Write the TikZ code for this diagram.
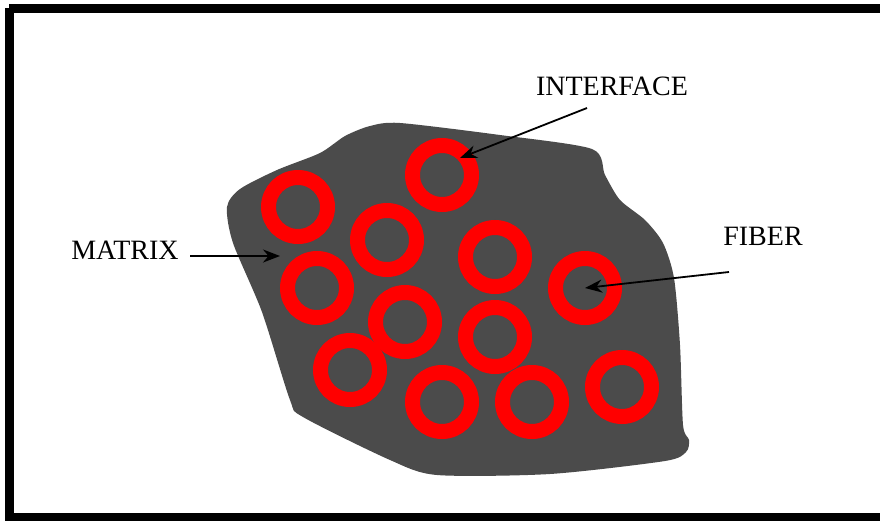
\documentclass[tikz,border=0pt]{standalone}
\usepackage{fontspec}
\setmainfont{Liberation Serif}
\usetikzlibrary{arrows.meta,positioning}

\definecolor{matrixgray}{HTML}{4B4B4B}

\tikzset{
  label text/.style={font=\fontsize{28}{30}\selectfont, inner sep=0pt},
  fiber ring/.style={draw=red, line width=15pt},
  pointer/.style={draw=black, line width=1.8pt, -{Stealth[length=17pt,width=13pt]}}
}

\begin{document}
\begin{tikzpicture}[x=1pt,y=-1pt]

  \useasboundingbox (0,0) rectangle (880,520);

  % frame
  \draw [line width=9pt] (9,8) -- (890,8) (9,8) -- (9,517) -- (890,517);

  % matrix body
  \fill [matrixgray] plot [smooth cycle, tension=0.45] coordinates {
    (227,207) (240,189) (277,170) (320,153) (345,136) (370,126) (400,123)
    (500,135) (592,149) (605,175) (620,200) (645,220) (663,243) (674,278)
    (680,345) (683,425) (689,440) (686,452) (665,461) (550,474) (437,475)
    (390,460) (303,417) (290,400) (262,312) (233,243)};

  % fibers
  \foreach \x/\y [count=\i] in {442/175, 298/207, 387/240, 495/257, 317/288, 585/288,
                                405/322, 495/337, 350/370, 442/402, 532/402, 622/387}
    \draw [fiber ring] (\x,\y) circle (29.5);

  % labels
  \node [label text] (interface) at (612,86) {INTERFACE};
  \node [label text] (matrix) at (125,250) {MATRIX};
  \node [label text] (fiber) at (763,236) {FIBER};

  \coordinate (interfaceStart) at (587,108);
  \coordinate (interfaceEnd) at (460,158);
  \coordinate (matrixStart) at (190,256);
  \coordinate (matrixEnd) at (280,256);
  \coordinate (fiberStart) at (729,272);
  \coordinate (fiberEnd) at (585,288);

  \draw [pointer] (interfaceStart) -- (interfaceEnd);
  \draw [pointer] (matrixStart) -- (matrixEnd);
  \draw [pointer] (fiberStart) -- (fiberEnd);

\end{tikzpicture}
\end{document}
